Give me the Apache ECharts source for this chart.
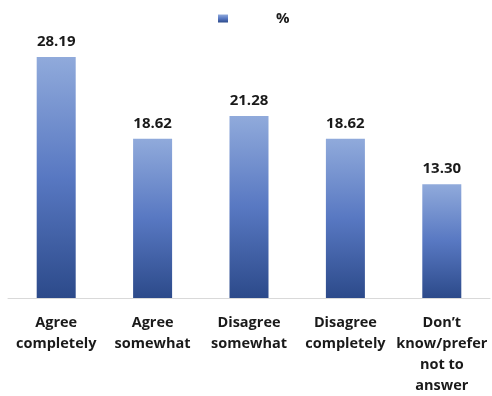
<!DOCTYPE html>
<html>
<head>
<meta charset="utf-8">
<script src="https://cdn.jsdelivr.net/npm/echarts@6/dist/echarts.min.js"></script>
<style>
  html, body { margin: 0; padding: 0; background: #ffffff; }
  #chart { width: 492px; height: 396px; }
</style>
</head>
<body>
<div id="chart"></div>
<script>
// Survey answers and their shares (%)
const categories = [
  'Agree\ncompletely',
  'Agree\nsomewhat',
  'Disagree\nsomewhat',
  'Disagree\ncompletely',
  'Don\u2019t\nknow/prefer\nnot to\nanswer'
];
const seriesName = '%';
const values = [28.19, 18.62, 21.28, 18.62, 13.30];

const barGradient = new echarts.graphic.LinearGradient(0, 0, 0, 1, [
  { offset: 0, color: '#90AADB' },
  { offset: 0.5, color: '#5878C2' },
  { offset: 1, color: '#2C4A8A' }
]);

const chart = echarts.init(document.getElementById('chart'), null, { renderer: 'canvas' });
chart.setOption({
  animation: false,
  textStyle: { fontFamily: 'Open Sans' },
  legend: {
    top: 6,
    left: 213,
    itemWidth: 10,
    itemHeight: 8,
    icon: 'rect',
    data: [seriesName],
    textStyle: {
      fontFamily: 'Open Sans',
      fontWeight: 'bold',
      fontSize: 15,
      color: '#1a1a1a',
      padding: [0, 0, 0, 43]
    }
  },
  grid: { left: 8, right: 2, top: 41.5, bottom: 98, containLabel: false },
  xAxis: {
    type: 'category',
    data: categories,
    axisLine: { lineStyle: { color: '#d9d9d9', width: 1 } },
    axisTick: { show: false },
    axisLabel: {
      interval: 0,
      margin: 14,
      fontFamily: 'Open Sans',
      fontWeight: 'bold',
      fontSize: 14.5,
      lineHeight: 21,
      color: '#1a1a1a'
    }
  },
  yAxis: {
    type: 'value',
    min: 0,
    max: 30,
    show: false,
    splitLine: { show: false }
  },
  series: [{
    name: seriesName,
    type: 'bar',
    data: values,
    barWidth: 39,
    itemStyle: { color: barGradient },
    label: {
      show: true,
      position: 'top',
      distance: 8,
      formatter: p => p.value.toFixed(2),
      fontFamily: 'Open Sans',
      fontWeight: 'bold',
      fontSize: 15,
      color: '#1a1a1a'
    }
  }]
});
</script>
</body>
</html>
